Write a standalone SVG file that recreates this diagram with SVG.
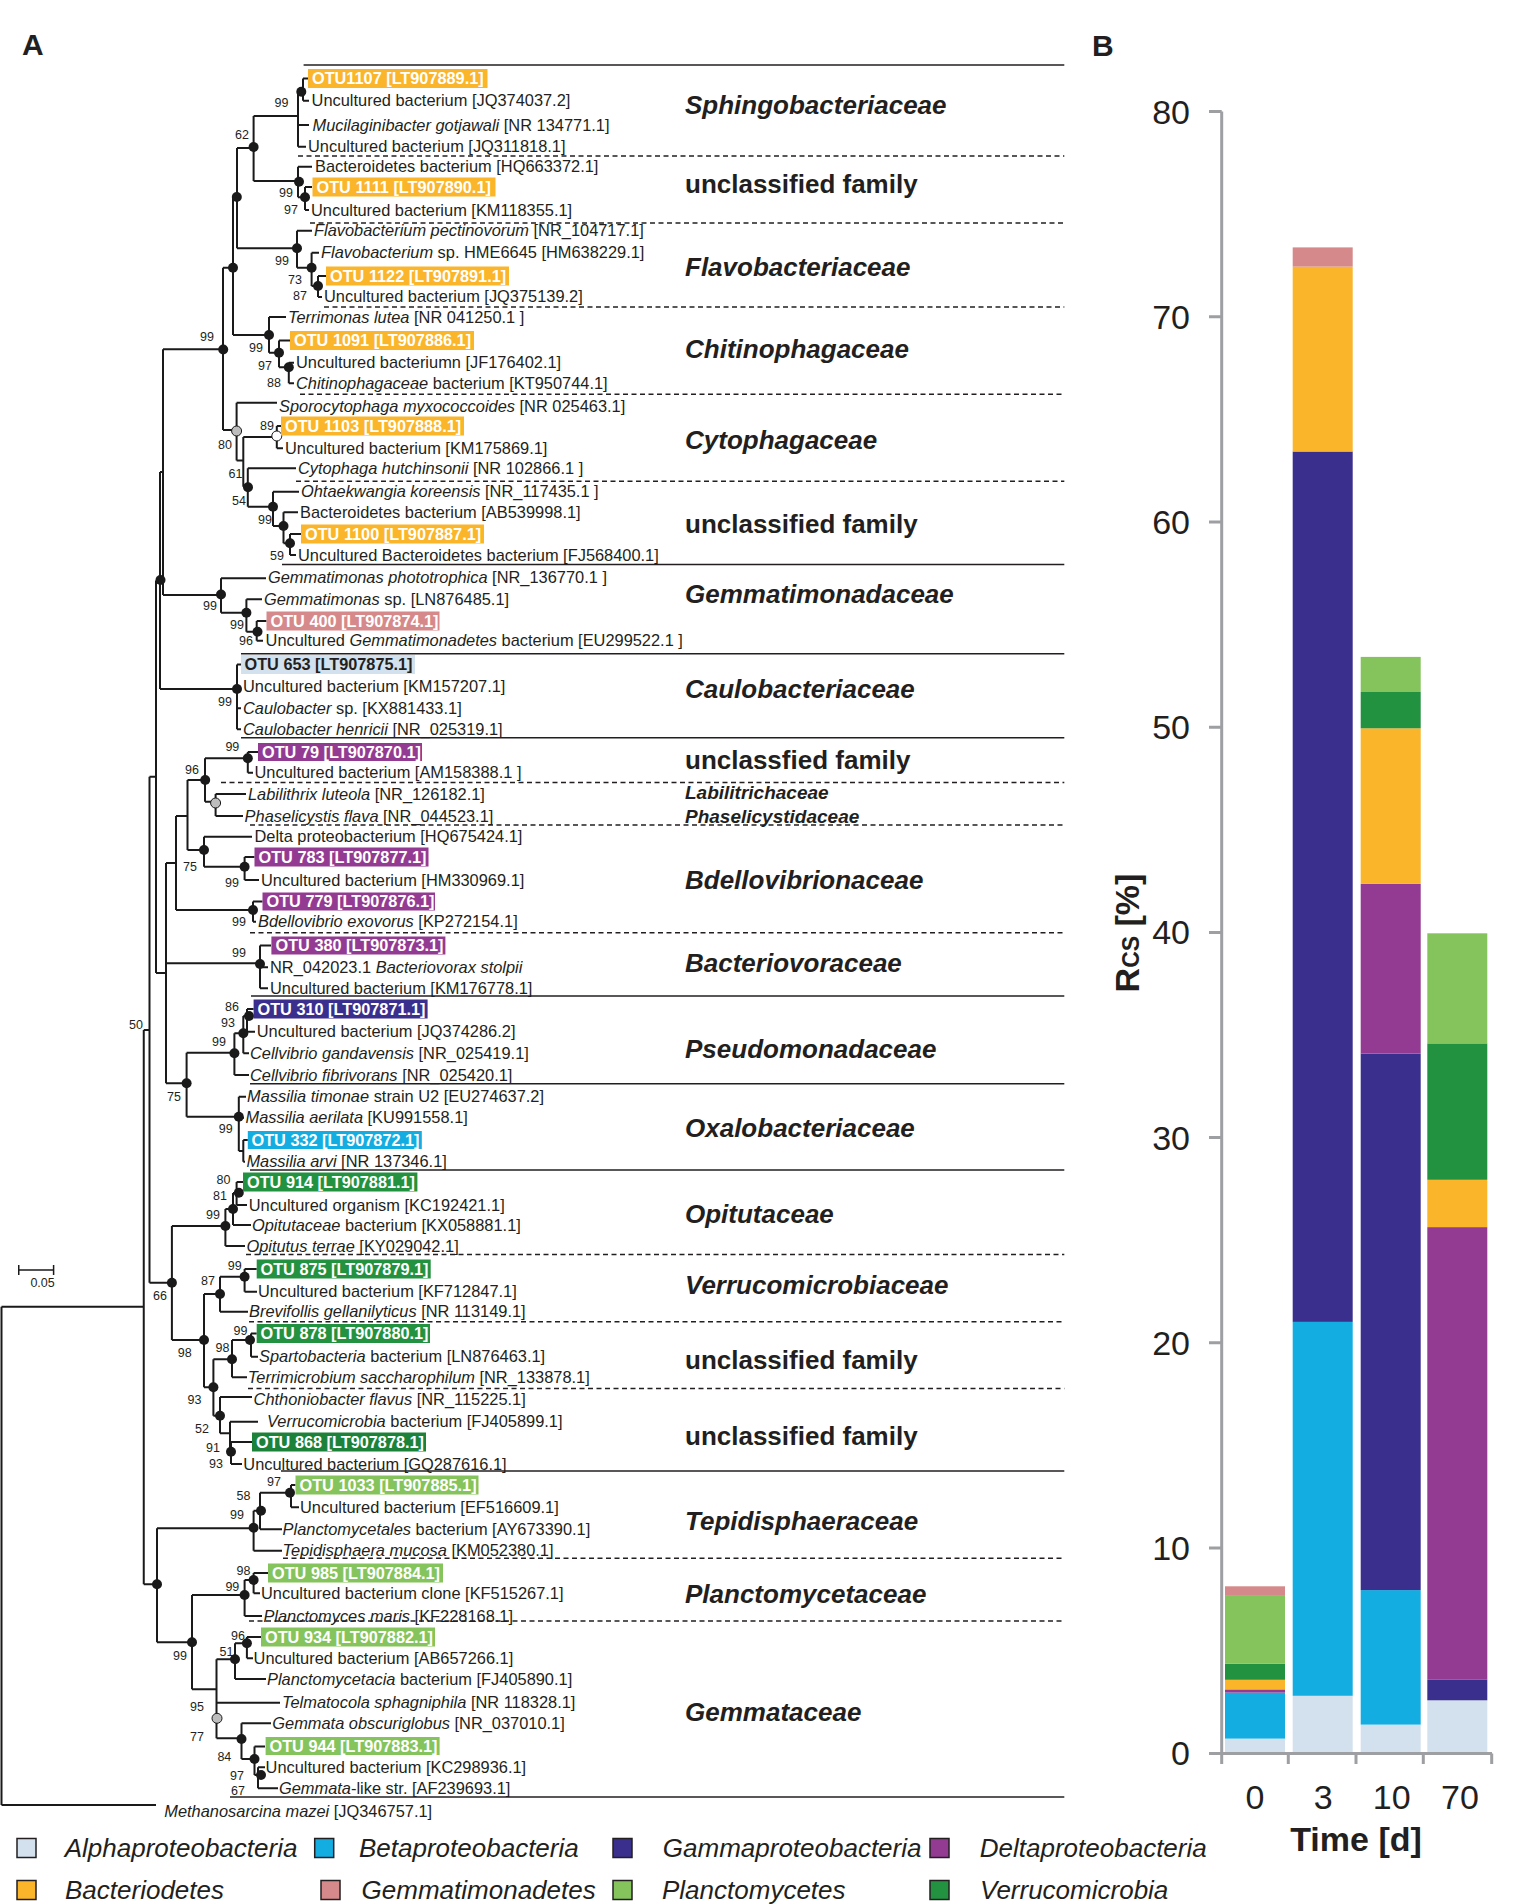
<svg xmlns="http://www.w3.org/2000/svg" width="1538" height="1904" viewBox="0 0 1538 1904">
<style>
text{font-family:"Liberation Sans",Arial,sans-serif;fill:#231f20}
.t{font-size:16.4px}
.i{font-style:italic}
.ob{font-size:16.3px;font-weight:bold;fill:#fff}
.obk{font-size:16.3px;font-weight:bold;fill:#231f20}
.bs{font-size:12.5px}
.fam{font-size:26px;font-weight:bold;font-style:italic}
.famn{font-size:26px;font-weight:bold}
.fams{font-size:19px;font-weight:bold;font-style:italic}
.br{stroke:#1a1a1a;stroke-width:2;fill:none}
.dot{fill:#1a1a1a}
.sep{stroke:#231f20;stroke-width:1.5;fill:none}
.dash{stroke-dasharray:5 3.5}
.ax{stroke:#9d9fa2;stroke-width:3;fill:none}
.tick{font-size:34px}
.leg{font-size:26px;font-style:italic}
.sq{stroke:#231f20;stroke-width:1.5}
.bac{fill:#fbb52a}.gem{fill:#d6898a}.alp{fill:#d3e1ee}.del{fill:#933b92}.gam{fill:#3b2f8e}.bet{fill:#14ade2}.ver{fill:#239240}.pla{fill:#85c45c}
</style>

<text x="22" y="55" style="font-size:30px;font-weight:bold">A</text>
<text x="1092" y="56" style="font-size:30px;font-weight:bold">B</text>

<!-- family separators -->
<g id="separators">
<path class="sep" d="M303.6,65 H1064.3"/>
<path class="sep dash" d="M298,156 H1064.3"/>
<path class="sep dash" d="M310,223 H1064.3"/>
<path class="sep dash" d="M324,307 H1064.3"/>
<path class="sep dash" d="M300,394.3 H1064.3"/>
<path class="sep dash" d="M296,481.3 H1064.3"/>
<path class="sep" d="M282,564.5 H1064.3"/>
<path class="sep" d="M241,653.8 H1064.3"/>
<path class="sep" d="M241,737.7 H1064.3"/>
<path class="sep dash" d="M221,782.6 H1064.3"/>
<path class="sep dash" d="M250,825 H1064.3"/>
<path class="sep dash" d="M250,932.8 H1064.3"/>
<path class="sep" d="M251,996 H1064.3"/>
<path class="sep" d="M250,1083.7 H1064.3"/>
<path class="sep" d="M250,1170 H1064.3"/>
<path class="sep dash" d="M246,1254.5 H1064.3"/>
<path class="sep dash" d="M249,1321.8 H1064.3"/>
<path class="sep dash" d="M248,1388.6 H1064.3"/>
<path class="sep" d="M281,1471 H1064.3"/>
<path class="sep dash" d="M283,1558.3 H1064.3"/>
<path class="sep dash" d="M249,1621 H1064.3"/>
<path class="sep" d="M230,1797 H1064.3"/>
</g>

<!-- family labels -->
<g id="families">
<text class="fam" x="685" y="114">Sphingobacteriaceae</text>
<text class="famn" x="685" y="193">unclassified family</text>
<text class="fam" x="685" y="276">Flavobacteriaceae</text>
<text class="fam" x="685" y="358">Chitinophagaceae</text>
<text class="fam" x="685" y="449">Cytophagaceae</text>
<text class="famn" x="685" y="533">unclassified family</text>
<text class="fam" x="685" y="603">Gemmatimonadaceae</text>
<text class="fam" x="685" y="698">Caulobacteriaceae</text>
<text class="famn" x="685" y="769">unclassfied family</text>
<text class="fams" x="685" y="799">Labilitrichaceae</text>
<text class="fams" x="685" y="823">Phaselicystidaceae</text>
<text class="fam" x="685" y="889">Bdellovibrionaceae</text>
<text class="fam" x="685" y="972">Bacteriovoraceae</text>
<text class="fam" x="685" y="1058">Pseudomonadaceae</text>
<text class="fam" x="685" y="1137">Oxalobacteriaceae</text>
<text class="fam" x="685" y="1223">Opitutaceae</text>
<text class="fam" x="685" y="1294">Verrucomicrobiaceae</text>
<text class="famn" x="685" y="1369">unclassified family</text>
<text class="famn" x="685" y="1445">unclassified family</text>
<text class="fam" x="685" y="1530">Tepidisphaeraceae</text>
<text class="fam" x="685" y="1603">Planctomycetaceae</text>
<text class="fam" x="685" y="1721">Gemmataceae</text>
</g>

<!-- tree branches (connectors) -->
<g id="branches" class="br">
<path d="M1.5,1306.7 V1805 M1.5,1306.7 H143.75 M1.5,1805 H156"/>
<path d="M143.75,1030 V1584.3 M143.75,1030 H149.5 M143.75,1584.3 H157"/>
<path d="M149.5,776.7 V1282.7 M149.5,1282.7 H171.9 M149.5,776.7 H156"/>
<path d="M156,580.5 V973 M156,973 H166 M156,580.5 H160"/>
<path d="M160,472 V689 M160,689 H237 M160,472 H163"/>
<path d="M163,349.3 V595 M163,349.3 H223 M163,595 H221"/>
<path d="M223,267.7 V430 M223,267.7 H233 M223,430 H236.6"/>
<path d="M233,196 V335 M233,196 H237 M233,335 H269"/>
<path d="M237,148 V248.3 M237,148 H253.6 M237,248.3 H297"/>
<path d="M253.6,116 V181 M253.6,116 H298 M253.6,181 H298"/>
<path d="M298,90 V146.7 M298,90 H303 M298,125 H309 M298,146.7 H306"/>
<path d="M303,78.5 V100.7 M303,78.5 H308 M303,100.7 H309"/>
<path d="M298,166.7 V197.3 M298,166.7 H312 M298,197.3 H305"/>
<path d="M305,187 V210 M305,187 H312 M305,210 H309"/>
<path d="M297,230.7 V267.7 M297,230.7 H312 M297,267.7 H311.6"/>
<path d="M311.6,252.7 V286 M311.6,252.7 H319 M311.6,286 H318"/>
<path d="M318,276 V297 M318,276 H326 M318,297 H322"/>
<path d="M269,317 V352.7 M269,317 H286 M269,352.7 H279"/>
<path d="M279,340.5 V367.3 M279,340.5 H290 M279,367.3 H288.8"/>
<path d="M288.8,362.7 V383.3 M288.8,362.7 H294 M288.8,383.3 H294"/>
<path d="M236.6,402.7 V460.5 M236.6,402.7 H277 M236.6,460.5 H243.3"/>
<path d="M243.3,437 V486.7 M243.3,437 H276.8 M243.3,486.7 H247.8"/>
<path d="M276.8,426 V448.3 M276.8,426 H281 M276.8,448.3 H283"/>
<path d="M247.8,468.3 V506.7 M247.8,468.3 H296 M247.8,506.7 H273"/>
<path d="M273,491.7 V526 M273,491.7 H299 M273,526 H283.5"/>
<path d="M283.5,512.3 V543.3 M283.5,512.3 H298 M283.5,543.3 H290"/>
<path d="M290,534 V555 M290,534 H301 M290,555 H296"/>
<path d="M221,578.3 V612.7 M221,578.3 H266 M221,612.7 H246.4"/>
<path d="M246.4,599.3 V631.7 M246.4,599.3 H262 M246.4,631.7 H256.7"/>
<path d="M256.7,621 V640.7 M256.7,621 H266.5 M256.7,640.7 H263"/>
<path d="M237,664.5 V729.3 M237,664.5 H241 M237,686.7 H241 M237,708.3 H241 M237,729.3 H241"/>
<path d="M166,863 V1083.3 M166,863 H176 M166,963.3 H260 M166,1083.3 H186.6"/>
<path d="M176,816 V910 M176,816 H187.5 M176,910 H253"/>
<path d="M187.5,780 V850 M187.5,780 H205 M187.5,850 H204"/>
<path d="M205,758.3 V801.7 M205,758.3 H247.8 M205,801.7 H215.6"/>
<path d="M247.8,752 V772.7 M247.8,752 H258 M247.8,772.7 H253"/>
<path d="M215.6,794 V816 M215.6,794 H246 M215.6,816 H243"/>
<path d="M204,836.7 V866.7 M204,836.7 H252 M204,866.7 H244.6"/>
<path d="M244.6,857 V880 M244.6,857 H254.5 M244.6,880 H259"/>
<path d="M253,901.5 V921.7 M253,901.5 H262.5 M253,921.7 H256"/>
<path d="M260,945.5 V988.3 M260,945.5 H271 M260,967.3 H268 M260,988.3 H268"/>
<path d="M186.6,1052.7 V1116.7 M186.6,1052.7 H234.4 M186.6,1116.7 H238.8"/>
<path d="M234.4,1033.3 V1075 M234.4,1033.3 H243.3 M234.4,1075 H249"/>
<path d="M243.3,1016 V1053.3 M243.3,1016 H247 M243.3,1053.3 H249"/>
<path d="M247,1009 V1031.7 M247,1009 H253.6 M247,1031.7 H255"/>
<path d="M238.8,1096.7 V1151 M238.8,1096.7 H246 M238.8,1117.7 H244 M238.8,1151 H243.3"/>
<path d="M243.3,1140 V1161.7 M243.3,1140 H247.8 M243.3,1161.7 H245"/>
<path d="M171.9,1226 V1340 M171.9,1226 H225.4 M171.9,1340 H204"/>
<path d="M225.4,1209 V1246 M225.4,1209 H233 M225.4,1246 H245"/>
<path d="M233,1193 V1225 M233,1193 H236.6 M233,1225 H251"/>
<path d="M236.6,1182 V1205 M236.6,1182 H243 M236.6,1205 H247"/>
<path d="M204,1294 V1387.3 M204,1294 H220 M204,1387.3 H213.4"/>
<path d="M220,1276.7 V1311.7 M220,1276.7 H244.6 M220,1311.7 H248"/>
<path d="M244.6,1269 V1291.7 M244.6,1269 H256.7 M244.6,1291.7 H257"/>
<path d="M213.4,1359.3 V1415.7 M213.4,1359.3 H232 M213.4,1415.7 H220"/>
<path d="M232,1340 V1377.3 M232,1340 H251 M232,1377.3 H247"/>
<path d="M251,1333.5 V1356.7 M251,1333.5 H256.7 M251,1356.7 H258"/>
<path d="M220,1397 V1433.3 M220,1397 H252 M220,1433.3 H230"/>
<path d="M230,1421.7 V1451.7 M230,1421.7 H258 M230,1451.7 H231"/>
<path d="M231,1442 V1464 M231,1442 H252 M231,1464 H242"/>
<path d="M157,1528.3 V1642.3 M157,1528.3 H253.6 M157,1642.3 H192"/>
<path d="M253.6,1510.7 V1550.7 M253.6,1510.7 H260 M253.6,1550.7 H282"/>
<path d="M260,1492.7 V1529.3 M260,1492.7 H291 M260,1529.3 H282"/>
<path d="M291,1485 V1507.3 M291,1485 H295.5 M291,1507.3 H299"/>
<path d="M192,1595 V1689.3 M192,1595 H244.6 M192,1689.3 H216.5"/>
<path d="M244.6,1580 V1616 M244.6,1580 H253.6 M244.6,1616 H262"/>
<path d="M253.6,1573 V1593.3 M253.6,1573 H268 M253.6,1593.3 H260"/>
<path d="M216.5,1659.3 V1738.3 M216.5,1659.3 H235 M216.5,1702.7 H280 M216.5,1738.3 H241.5"/>
<path d="M235,1643.3 V1679 M235,1643.3 H246.9 M235,1679 H266"/>
<path d="M246.9,1637 V1658.3 M246.9,1637 H261 M246.9,1658.3 H253"/>
<path d="M241.5,1723.3 V1759 M241.5,1723.3 H271 M241.5,1759 H254.5"/>
<path d="M254.5,1746.5 V1775 M254.5,1746.5 H265 M254.5,1775 H258"/>
<path d="M258,1767.3 V1788.3 M258,1767.3 H265 M258,1788.3 H278"/>
<path d="M18.75,1270 H53.6 M18.75,1265 V1275 M53.6,1265 V1275" style="stroke-width:1.5"/>
</g>

<!-- node dots -->
<g id="node-dots" class="dot">
<circle cx="301.3" cy="91.7" r="5"/><circle cx="253.6" cy="147" r="5"/><circle cx="299" cy="181.7" r="5"/><circle cx="305" cy="197.3" r="5"/>
<circle cx="236.8" cy="197" r="5"/><circle cx="297" cy="248.3" r="5"/><circle cx="311.6" cy="267.7" r="5"/><circle cx="318" cy="286" r="5"/>
<circle cx="233" cy="267.7" r="5"/><circle cx="223.2" cy="349.5" r="5"/><circle cx="269" cy="335" r="5"/><circle cx="279" cy="352.7" r="5"/>
<circle cx="288.8" cy="367.3" r="5"/><circle cx="248" cy="487.3" r="5"/><circle cx="273" cy="506.7" r="5"/><circle cx="283.5" cy="526" r="5"/>
<circle cx="290" cy="543.3" r="5"/><circle cx="160.5" cy="580" r="5"/><circle cx="221" cy="594.5" r="5"/><circle cx="246.4" cy="612.7" r="5"/>
<circle cx="257.5" cy="631.7" r="5"/><circle cx="237" cy="689" r="5"/><circle cx="247.8" cy="758.3" r="5"/><circle cx="205.2" cy="780" r="5"/>
<circle cx="204" cy="850" r="5"/><circle cx="244.6" cy="866.7" r="5"/><circle cx="253" cy="910" r="5"/><circle cx="260" cy="964" r="5"/>
<circle cx="249" cy="1016" r="5"/><circle cx="243.3" cy="1033.3" r="5"/><circle cx="234.4" cy="1053.3" r="5"/><circle cx="186.6" cy="1083.3" r="5"/>
<circle cx="238.8" cy="1116.7" r="5"/><circle cx="238.8" cy="1192.7" r="5"/><circle cx="233" cy="1209" r="5"/><circle cx="225.4" cy="1226" r="5"/>
<circle cx="171.9" cy="1282.7" r="5"/><circle cx="244.6" cy="1276.7" r="5"/><circle cx="220" cy="1294" r="5"/><circle cx="250" cy="1340" r="5"/>
<circle cx="204" cy="1340" r="5"/><circle cx="232" cy="1359.3" r="5"/><circle cx="213.4" cy="1387.3" r="5"/><circle cx="220" cy="1415.7" r="5"/>
<circle cx="231" cy="1451.7" r="5"/><circle cx="290" cy="1492.7" r="5"/><circle cx="261" cy="1510.7" r="5"/><circle cx="253.6" cy="1527.7" r="5"/>
<circle cx="157" cy="1584.3" r="5"/><circle cx="253.6" cy="1580" r="5"/><circle cx="244.6" cy="1595" r="5"/><circle cx="192" cy="1642.3" r="5"/>
<circle cx="246.9" cy="1643.3" r="5"/><circle cx="235" cy="1659.3" r="5"/><circle cx="241.5" cy="1739" r="5"/><circle cx="254.5" cy="1759" r="5"/>
<circle cx="261" cy="1775" r="5"/>
<circle cx="236.6" cy="431" r="5" style="fill:#bdbdbd;stroke:#1a1a1a;stroke-width:1"/>
<circle cx="276.8" cy="436" r="5" style="fill:#ffffff;stroke:#1a1a1a;stroke-width:1"/>
<circle cx="215.6" cy="803" r="5" style="fill:#bdbdbd;stroke:#1a1a1a;stroke-width:1"/>
<circle cx="217" cy="1718.3" r="5" style="fill:#bdbdbd;stroke:#1a1a1a;stroke-width:1"/>
</g>

<!-- bootstrap values -->
<g id="bootstrap" class="bs">
<text x="274.5" y="106.5">99</text><text x="235" y="138.5">62</text><text x="279" y="197">99</text><text x="284" y="213.5">97</text>
<text x="275" y="264.5">99</text><text x="288" y="283.5">73</text><text x="293" y="300">87</text><text x="200" y="341">99</text>
<text x="249" y="351.5">99</text><text x="258" y="370">97</text><text x="267" y="386.5">88</text><text x="260" y="429.5">89</text>
<text x="218" y="448.5">80</text><text x="228.6" y="477.5">61</text><text x="232" y="504.5">54</text><text x="258" y="523.5">99</text>
<text x="270" y="559.5">59</text><text x="203" y="610">99</text><text x="230" y="628.5">99</text><text x="239" y="645">96</text>
<text x="218" y="705.5">99</text><text x="225.4" y="751">99</text><text x="185" y="773.5">96</text><text x="183" y="870.5">75</text>
<text x="225" y="887">99</text><text x="232" y="926">99</text><text x="232" y="957">99</text><text x="129" y="1028.5">50</text>
<text x="225" y="1011">86</text><text x="221" y="1027">93</text><text x="212" y="1046">99</text><text x="167" y="1101">75</text>
<text x="218.7" y="1132.5">99</text><text x="216.5" y="1183.5">80</text><text x="213" y="1199.5">81</text><text x="206" y="1218.5">99</text>
<text x="227.7" y="1269.5">99</text><text x="201" y="1284.5">87</text><text x="153" y="1299.5">66</text><text x="233.5" y="1334.5">99</text>
<text x="215.6" y="1351.5">98</text><text x="177.7" y="1357">98</text><text x="187.5" y="1403.5">93</text><text x="195" y="1432.5">52</text>
<text x="206" y="1451.5">91</text><text x="209" y="1467.5">93</text><text x="267" y="1486">97</text><text x="236.6" y="1500">58</text>
<text x="230" y="1518.5">99</text><text x="236.6" y="1574.5">98</text><text x="225.4" y="1590.5">99</text><text x="231" y="1639.5">96</text>
<text x="219.6" y="1656">51</text><text x="173" y="1659.5">99</text><text x="190" y="1711">95</text><text x="190" y="1740.5">77</text>
<text x="217.4" y="1761">84</text><text x="230" y="1779.5">97</text><text x="231" y="1795">67</text>
<text x="30.4" y="1287">0.05</text>
</g>

<!-- leaves -->
<g id="leaf-otu1107"><rect class="bac" x="308" y="69" width="179.5" height="19"/><text class="ob" x="312" y="84.2">OTU1107 [LT907889.1]</text></g>
<g id="leaf-2"><text class="t" x="311.6" y="106.4">Uncultured bacterium [JQ374037.2]</text></g>
<g id="leaf-3"><text class="t" x="312.5" y="130.7"><tspan class="i">Mucilaginibacter gotjawali</tspan> [NR 134771.1]</text></g>
<g id="leaf-4"><text class="t" x="308" y="152.4">Uncultured bacterium [JQ311818.1]</text></g>
<g id="leaf-5"><text class="t" x="315" y="172.4">Bacteroidetes bacterium [HQ663372.1]</text></g>
<g id="leaf-otu1111"><rect class="bac" x="312.5" y="177.5" width="183" height="19"/><text class="ob" x="316.5" y="192.7">OTU 1111 [LT907890.1]</text></g>
<g id="leaf-7"><text class="t" x="311" y="215.7">Uncultured bacterium [KM118355.1]</text></g>
<g id="leaf-8"><text class="t" x="314" y="236.4"><tspan class="i">Flavobacterium pectinovorum</tspan> [NR_104717.1]</text></g>
<g id="leaf-9"><text class="t" x="321" y="258.4"><tspan class="i">Flavobacterium</tspan> sp. HME6645 [HM638229.1]</text></g>
<g id="leaf-otu1122"><rect class="bac" x="326" y="266.5" width="183" height="19"/><text class="ob" x="330" y="281.7">OTU 1122 [LT907891.1]</text></g>
<g id="leaf-11"><text class="t" x="324" y="302.4">Uncultured bacterium [JQ375139.2]</text></g>
<g id="leaf-12"><text class="t" x="288" y="322.7"><tspan class="i">Terrimonas lutea</tspan> [NR 041250.1 ]</text></g>
<g id="leaf-otu1091"><rect class="bac" x="290" y="331" width="184" height="19"/><text class="ob" x="294" y="346.2">OTU 1091 [LT907886.1]</text></g>
<g id="leaf-14"><text class="t" x="296" y="368.4">Uncultured bacteriumn [JF176402.1]</text></g>
<g id="leaf-15"><text class="t" x="296" y="389"><tspan class="i">Chitinophagaceae</tspan> bacterium [KT950744.1]</text></g>
<g id="leaf-16"><text class="t" x="279" y="411.7"><tspan class="i">Sporocytophaga myxococcoides</tspan> [NR 025463.1]</text></g>
<g id="leaf-otu1103"><rect class="bac" x="281" y="416.5" width="183" height="19"/><text class="ob" x="285" y="431.7">OTU 1103 [LT907888.1]</text></g>
<g id="leaf-18"><text class="t" x="285" y="454">Uncultured bacterium [KM175869.1]</text></g>
<g id="leaf-19"><text class="t" x="298" y="474"><tspan class="i">Cytophaga hutchinsonii</tspan> [NR 102866.1 ]</text></g>
<g id="leaf-20"><text class="t" x="301" y="497.4"><tspan class="i">Ohtaekwangia koreensis</tspan> [NR_117435.1 ]</text></g>
<g id="leaf-21"><text class="t" x="300" y="518">Bacteroidetes bacterium [AB539998.1]</text></g>
<g id="leaf-otu1100"><rect class="bac" x="301" y="524.5" width="183" height="19"/><text class="ob" x="305" y="539.7">OTU 1100 [LT907887.1]</text></g>
<g id="leaf-23"><text class="t" x="298" y="560.7">Uncultured Bacteroidetes bacterium [FJ568400.1]</text></g>
<g id="leaf-24"><text class="t" x="268" y="583"><tspan class="i">Gemmatimonas phototrophica</tspan> [NR_136770.1 ]</text></g>
<g id="leaf-25"><text class="t" x="264" y="605"><tspan class="i">Gemmatimonas</tspan> sp. [LN876485.1]</text></g>
<g id="leaf-otu400"><rect class="gem" x="266.5" y="611.5" width="173" height="19"/><text class="ob" x="270.5" y="626.7">OTU 400 [LT907874.1]</text></g>
<g id="leaf-27"><text class="t" x="265.6" y="646.4">Uncultured <tspan class="i">Gemmatimonadetes</tspan> bacterium [EU299522.1 ]</text></g>
<g id="leaf-otu653"><rect class="alp" x="241" y="655" width="174" height="19"/><text class="obk" x="244.5" y="670.2">OTU 653 [LT907875.1]</text></g>
<g id="leaf-29"><text class="t" x="243" y="692.4">Uncultured bacterium [KM157207.1]</text></g>
<g id="leaf-30"><text class="t" x="243" y="714"><tspan class="i">Caulobacter</tspan> sp. [KX881433.1]</text></g>
<g id="leaf-31"><text class="t" x="243" y="735"><tspan class="i">Caulobacter henricii</tspan> [NR_025319.1]</text></g>
<g id="leaf-otu79"><rect class="del" x="258" y="743" width="164" height="18"/><text class="ob" x="262" y="757.7">OTU 79 [LT907870.1]</text></g>
<g id="leaf-33"><text class="t" x="254.5" y="778.4">Uncultured bacterium [AM158388.1 ]</text></g>
<g id="leaf-34"><text class="t" x="248" y="799.7"><tspan class="i">Labilithrix luteola</tspan> [NR_126182.1]</text></g>
<g id="leaf-35"><text class="t" x="244.6" y="821.7"><tspan class="i">Phaselicystis flava</tspan> [NR_044523.1]</text></g>
<g id="leaf-36"><text class="t" x="254.5" y="842.4">Delta proteobacterium [HQ675424.1]</text></g>
<g id="leaf-otu783"><rect class="del" x="254.5" y="847.5" width="174" height="19"/><text class="ob" x="258.5" y="862.7">OTU 783 [LT907877.1]</text></g>
<g id="leaf-38"><text class="t" x="261" y="885.7">Uncultured bacterium [HM330969.1]</text></g>
<g id="leaf-otu779"><rect class="del" x="262.5" y="892.5" width="172.5" height="18"/><text class="ob" x="266.5" y="907.2">OTU 779 [LT907876.1]</text></g>
<g id="leaf-40"><text class="t" x="258" y="927.4"><tspan class="i">Bdellovibrio exovorus</tspan> [KP272154.1]</text></g>
<g id="leaf-otu380"><rect class="del" x="271.4" y="936.5" width="174" height="18"/><text class="ob" x="275.5" y="951.2">OTU 380 [LT907873.1]</text></g>
<g id="leaf-42"><text class="t" x="270" y="973">NR_042023.1 <tspan class="i">Bacteriovorax stolpii</tspan></text></g>
<g id="leaf-43"><text class="t" x="270" y="994">Uncultured bacterium [KM176778.1]</text></g>
<g id="leaf-otu310"><rect class="gam" x="253.6" y="999.5" width="174" height="19"/><text class="ob" x="257.5" y="1014.7">OTU 310 [LT907871.1]</text></g>
<g id="leaf-45"><text class="t" x="256.7" y="1037.4">Uncultured bacterium [JQ374286.2]</text></g>
<g id="leaf-46"><text class="t" x="250" y="1059"><tspan class="i">Cellvibrio gandavensis</tspan> [NR_025419.1]</text></g>
<g id="leaf-47"><text class="t" x="250" y="1080.7"><tspan class="i">Cellvibrio fibrivorans</tspan> [NR_025420.1]</text></g>
<g id="leaf-48"><text class="t" x="247" y="1102.4"><tspan class="i">Massilia timonae</tspan> strain U2 [EU274637.2]</text></g>
<g id="leaf-49"><text class="t" x="245.5" y="1123.4"><tspan class="i">Massilia aerilata</tspan> [KU991558.1]</text></g>
<g id="leaf-otu332"><rect class="bet" x="247.8" y="1131" width="174" height="18"/><text class="ob" x="251.5" y="1145.7">OTU 332 [LT907872.1]</text></g>
<g id="leaf-51"><text class="t" x="246.4" y="1167.4"><tspan class="i">Massilia arvi</tspan> [NR  137346.1]</text></g>
<g id="leaf-otu914"><rect class="ver" x="243" y="1172.5" width="174.4" height="19"/><text class="ob" x="247" y="1187.7">OTU 914 [LT907881.1]</text></g>
<g id="leaf-53"><text class="t" x="248.7" y="1210.7">Uncultured organism [KC192421.1]</text></g>
<g id="leaf-54"><text class="t" x="252" y="1230.7"><tspan class="i">Opitutaceae</tspan> bacterium [KX058881.1]</text></g>
<g id="leaf-55"><text class="t" x="246.4" y="1251.7"><tspan class="i">Opitutus terrae</tspan> [KY029042.1]</text></g>
<g id="leaf-otu875"><rect class="ver" x="256.7" y="1259.5" width="174" height="19"/><text class="ob" x="260.5" y="1274.7">OTU 875 [LT907879.1]</text></g>
<g id="leaf-57"><text class="t" x="258" y="1297.4">Uncultured bacterium [KF712847.1]</text></g>
<g id="leaf-58"><text class="t" x="249" y="1317.4"><tspan class="i">Brevifollis gellanilyticus</tspan> [NR 113149.1]</text></g>
<g id="leaf-otu878"><rect class="ver" x="256.7" y="1324" width="173.3" height="19"/><text class="ob" x="260.5" y="1339.2">OTU 878 [LT907880.1]</text></g>
<g id="leaf-60"><text class="t" x="259" y="1362.4"><tspan class="i">Spartobacteria</tspan> bacterium [LN876463.1]</text></g>
<g id="leaf-61"><text class="t" x="247.8" y="1383"><tspan class="i">Terrimicrobium saccharophilum</tspan> [NR_133878.1]</text></g>
<g id="leaf-62"><text class="t" x="253.6" y="1405"><tspan class="i">Chthoniobacter flavus</tspan> [NR_115225.1]</text></g>
<g id="leaf-63"><text class="t" x="267" y="1427.4"><tspan class="i">Verrucomicrobia</tspan> bacterium [FJ405899.1]</text></g>
<g id="leaf-otu868"><rect class="ver" x="252" y="1432.5" width="174" height="19" style="fill:#1c8139"/><text class="ob" x="256" y="1447.7">OTU 868 [LT907878.1]</text></g>
<g id="leaf-65"><text class="t" x="243.3" y="1469.7">Uncultured bacterium [GQ287616.1]</text></g>
<g id="leaf-otu1033"><rect class="pla" x="295.5" y="1475.5" width="183" height="19"/><text class="ob" x="299.5" y="1490.7">OTU 1033 [LT907885.1]</text></g>
<g id="leaf-67"><text class="t" x="300" y="1513">Uncultured bacterium [EF516609.1]</text></g>
<g id="leaf-68"><text class="t" x="282.6" y="1535"><tspan class="i">Planctomycetales</tspan> bacterium [AY673390.1]</text></g>
<g id="leaf-69"><text class="t" x="282.6" y="1556.4"><tspan class="i">Tepidisphaera mucosa</tspan> [KM052380.1]</text></g>
<g id="leaf-otu985"><rect class="pla" x="268" y="1563.5" width="175" height="19"/><text class="ob" x="272" y="1578.7">OTU 985 [LT907884.1]</text></g>
<g id="leaf-71"><text class="t" x="261" y="1599">Uncultured bacterium clone [KF515267.1]</text></g>
<g id="leaf-72"><text class="t" x="263.4" y="1621.7"><tspan class="i">Planctomyces maris</tspan> [KF228168.1]</text></g>
<g id="leaf-otu934"><rect class="pla" x="261" y="1627.5" width="174" height="19"/><text class="ob" x="265" y="1642.7">OTU 934 [LT907882.1]</text></g>
<g id="leaf-74"><text class="t" x="253.6" y="1664">Uncultured bacterium [AB657266.1]</text></g>
<g id="leaf-75"><text class="t" x="267" y="1684.7"><tspan class="i">Planctomycetacia</tspan> bacterium [FJ405890.1]</text></g>
<g id="leaf-76"><text class="t" x="282" y="1708.4"><tspan class="i">Telmatocola sphagniphila</tspan> [NR 118328.1]</text></g>
<g id="leaf-77"><text class="t" x="272.3" y="1729"><tspan class="i">Gemmata obscuriglobus</tspan> [NR_037010.1]</text></g>
<g id="leaf-otu944"><rect class="pla" x="265.6" y="1737" width="174" height="18"/><text class="ob" x="269.5" y="1751.7">OTU 944 [LT907883.1]</text></g>
<g id="leaf-79"><text class="t" x="265.6" y="1773">Uncultured bacterium [KC298936.1]</text></g>
<g id="leaf-80"><text class="t" x="279" y="1794"><tspan class="i">Gemmata</tspan>-like str. [AF239693.1]</text></g>
<g id="leaf-81"><text class="t" x="164.3" y="1817.4"><tspan class="i">Methanosarcina mazei</tspan> [JQ346757.1]</text></g>

<!-- bar chart -->
<g id="bars">
<rect class="alp" x="1225" y="1738.6" width="60" height="14.8"/>
<rect class="bet" x="1225" y="1692.6" width="60" height="46"/>
<rect class="del" x="1225" y="1689.4" width="60" height="3.2"/>
<rect class="bac" x="1225" y="1679.8" width="60" height="9.6"/>
<rect class="ver" x="1225" y="1663.8" width="60" height="16"/>
<rect class="pla" x="1225" y="1595.9" width="60" height="67.9"/>
<rect class="gem" x="1225" y="1586.3" width="60" height="9.6"/>

<rect class="alp" x="1292.7" y="1695.8" width="60" height="57.6"/>
<rect class="bet" x="1292.7" y="1321.9" width="60" height="373.9"/>
<rect class="gam" x="1292.7" y="451.5" width="60" height="870.4"/>
<rect class="bac" x="1292.7" y="266.6" width="60" height="184.9"/>
<rect class="gem" x="1292.7" y="247.4" width="60" height="19.2"/>

<rect class="alp" x="1360.7" y="1724.6" width="60" height="28.8"/>
<rect class="bet" x="1360.7" y="1590.1" width="60" height="134.5"/>
<rect class="gam" x="1360.7" y="1053.6" width="60" height="536.5"/>
<rect class="del" x="1360.7" y="883.9" width="60" height="169.7"/>
<rect class="bac" x="1360.7" y="728.3" width="60" height="155.6"/>
<rect class="ver" x="1360.7" y="692" width="60" height="36.3"/>
<rect class="pla" x="1360.7" y="656.9" width="60" height="35.1"/>

<rect class="alp" x="1427.3" y="1700.3" width="60" height="53.1"/>
<rect class="gam" x="1427.3" y="1679.8" width="60" height="20.5"/>
<rect class="del" x="1427.3" y="1227.1" width="60" height="452.7"/>
<rect class="bac" x="1427.3" y="1179.8" width="60" height="47.3"/>
<rect class="ver" x="1427.3" y="1043.4" width="60" height="136.4"/>
<rect class="pla" x="1427.3" y="933.3" width="60" height="110.1"/>
</g>

<g id="axes">
<path class="ax" d="M1221.7,111.6 V1753.4 M1209,1753.4 H1492 M1209,111.6 H1221.7 M1209,316.8 H1221.7 M1209,522 H1221.7 M1209,727.2 H1221.7 M1209,932.4 H1221.7 M1209,1137.6 H1221.7 M1209,1342.8 H1221.7 M1209,1548 H1221.7 M1221.7,1753.4 V1764 M1288.3,1753.4 V1764 M1356,1753.4 V1764 M1423.3,1753.4 V1764 M1491.7,1753.4 V1764"/>
<g class="tick" text-anchor="end">
<text x="1190" y="124">80</text><text x="1190" y="329">70</text><text x="1190" y="534">60</text><text x="1190" y="739">50</text>
<text x="1190" y="944">40</text><text x="1190" y="1150">30</text><text x="1190" y="1355">20</text><text x="1190" y="1560">10</text><text x="1190" y="1765">0</text>
</g>
<g class="tick" text-anchor="middle">
<text x="1255" y="1809">0</text><text x="1323.3" y="1809">3</text><text x="1391.7" y="1809">10</text><text x="1460" y="1809">70</text>
</g>
<text x="1356" y="1851" text-anchor="middle" style="font-size:34px;font-weight:bold">Time [d]</text>
<text transform="translate(1139,933) rotate(-90)" text-anchor="middle" style="font-size:34px;font-weight:bold">R<tspan style="font-size:23px">CS</tspan> [%]</text>
</g>

<!-- legend -->
<g id="legend">
<rect class="alp sq" x="17" y="1838.5" width="19" height="19"/><text class="leg" x="64.7" y="1857">Alphaproteobacteria</text>
<rect class="bet sq" x="314.7" y="1838.5" width="19" height="19"/><text class="leg" x="359" y="1857">Betaproteobacteria</text>
<rect class="gam sq" x="613" y="1838.5" width="19" height="19"/><text class="leg" x="662.8" y="1857">Gammaproteobacteria</text>
<rect class="del sq" x="930" y="1838.5" width="19" height="19"/><text class="leg" x="979.8" y="1857">Deltaproteobacteria</text>
<rect class="bac sq" x="17" y="1880.5" width="19" height="19"/><text class="leg" x="65" y="1899">Bacteriodetes</text>
<rect class="gem sq" x="321" y="1880.5" width="19" height="19"/><text class="leg" x="361.6" y="1899">Gemmatimonadetes</text>
<rect class="pla sq" x="613" y="1880.5" width="19" height="19"/><text class="leg" x="662" y="1899">Planctomycetes</text>
<rect class="ver sq" x="930" y="1880.5" width="19" height="19"/><text class="leg" x="980" y="1899">Verrucomicrobia</text>
</g>
</svg>
